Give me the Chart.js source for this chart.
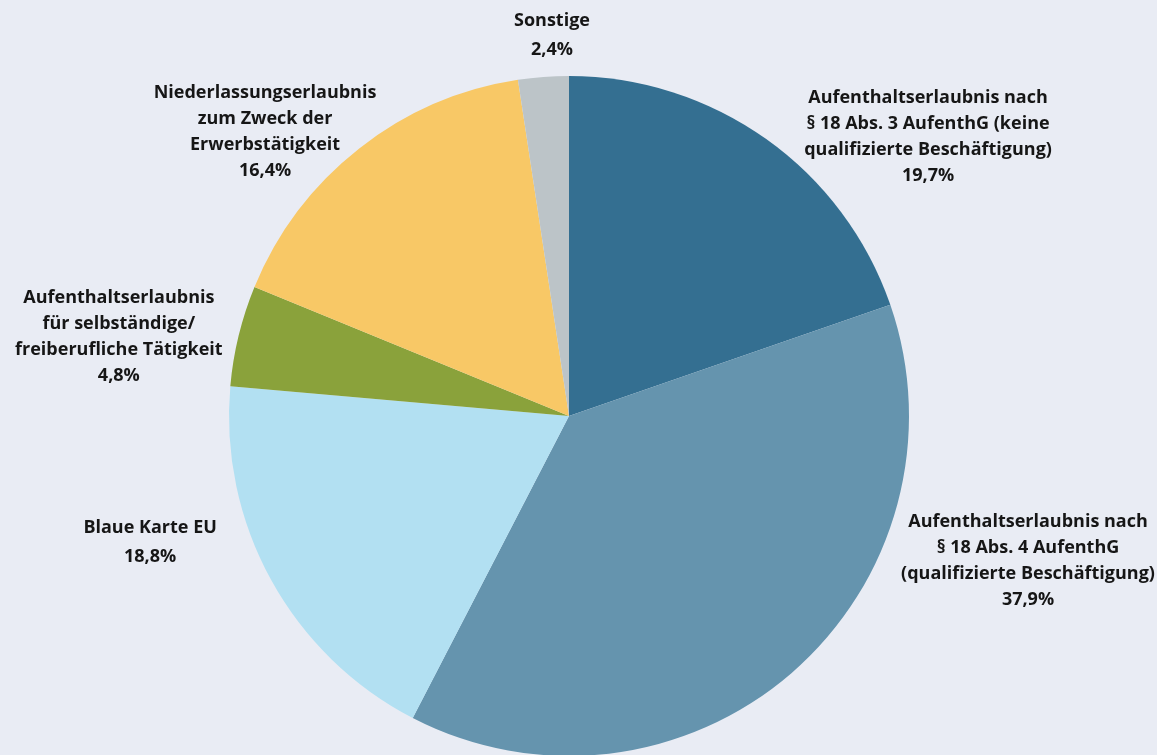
<!DOCTYPE html>
<html lang="de">
<head>
<meta charset="utf-8">
<script src="https://cdn.jsdelivr.net/npm/chart.js@4/dist/chart.umd.min.js"></script>
<style>
    html, body { margin: 0; padding: 0; background: #e9ecf4; overflow: hidden; }
    #wrap { width: 1157px; height: 755px; overflow: hidden; }
</style>
</head>
<body>
<div id="wrap"><canvas id="pie" width="1157" height="832"></canvas></div>
<script>
// Anteile (%) im Uhrzeigersinn ab 12 Uhr
const categories = [
    ["Aufenthaltserlaubnis nach", "§ 18 Abs. 3 AufenthG (keine", "qualifizierte Beschäftigung)"],
    ["Aufenthaltserlaubnis nach", "§ 18 Abs. 4 AufenthG", "(qualifizierte Beschäftigung)"],
    ["Blaue Karte EU"],
    ["Aufenthaltserlaubnis", "für selbständige/", "freiberufliche Tätigkeit"],
    ["Niederlassungserlaubnis", "zum Zweck der", "Erwerbstätigkeit"],
    ["Sonstige"]
];
const shares = [19.7, 37.9, 18.8, 4.8, 16.4, 2.4];
const shareLabels = ["19,7%", "37,9%", "18,8%", "4,8%", "16,4%", "2,4%"];

const colors = ["#346f91", "#6594ae", "#b2e0f2", "#8aa23b", "#f8c866", "#bcc4c8"];

// Lage der Beschriftungen relativ zum Kreismittelpunkt (in Radien)
const labelOffsets = [[1.056, -0.82], [1.35, 0.426], [-1.232, 0.372], [-1.324, -0.232], [-0.894, -0.835], [-0.05, -1.12]];

const labelPlugin = {
    id: "pieLabels",
    afterDraw(chart) {
        const ctx = chart.ctx;
        const meta = chart.getDatasetMeta(0);
        ctx.save();
        ctx.font = "bold 18px 'Open Sans', sans-serif";
        ctx.fillStyle = "#161616";
        ctx.textAlign = "center";
        ctx.textBaseline = "middle";
        meta.data.forEach((arc, i) => {
            const r = arc.outerRadius;
            const lines = categories[i].concat([shareLabels[i]]);
            const lh = lines.length === 2 ? 29 : 26;
            const cx = arc.x + labelOffsets[i][0] * r;
            const cy = arc.y + labelOffsets[i][1] * r;
            const top = cy - (lines.length - 1) * lh / 2;
            lines.forEach((t, j) => ctx.fillText(t, cx, top + j * lh));
        });
        ctx.restore();
    }
};

new Chart(document.getElementById("pie"), {
    type: "pie",
    data: {
        labels: categories.map(c => c.join(" ")),
        datasets: [{
            data: shares,
            backgroundColor: colors,
            borderWidth: 0
        }]
    },
    options: {
        responsive: false,
        animation: false,
        devicePixelRatio: 1,
        layout: { padding: { top: 76, bottom: 76, left: 229, right: 248 } },
        plugins: {
            legend: { display: false },
            tooltip: { enabled: false }
        }
    },
    plugins: [labelPlugin]
});
</script>
</body>
</html>
